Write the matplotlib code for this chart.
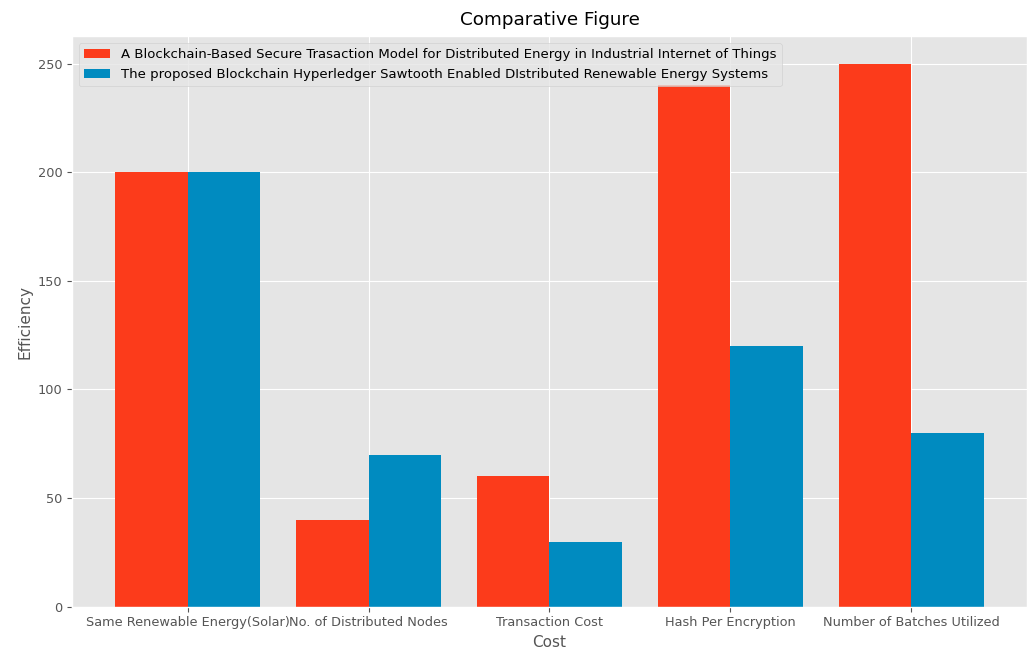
import numpy as np
import matplotlib
matplotlib.use("Agg")
import matplotlib.pyplot as plt

plt.style.use("ggplot")

categories = ["Same Renewable Energy(Solar)", "No. of Distributed Nodes",
              "Transaction Cost", "Hash Per Encryption", "Number of Batches Utilized"]
existing = [200, 40, 60, 240, 250]
proposed = [200, 70, 30, 120, 80]
labels = ["A Blockchain-Based Secure Trasaction Model for Distributed Energy in Industrial Internet of Things",
          "The proposed Blockchain Hyperledger Sawtooth Enabled DIstributed Renewable Energy Systems"]

fig = plt.figure(figsize=(10.29, 6.51), dpi=100)
ax = fig.add_axes([0.07, 0.068, 0.928, 0.876])

x = np.arange(len(categories))
w = 0.4
ax.bar(x - w / 2, existing, w, color="#FC3B1B", label=labels[0])
ax.bar(x + w / 2, proposed, w, color="#008BC0", label=labels[1])

ax.set_xticks(x)
ax.set_xticklabels(categories, fontsize=9.3)
ax.tick_params(axis="y", labelsize=9.3)
ax.set_xlabel("Cost", fontsize=11)
ax.set_ylabel("Efficiency", fontsize=11)
ax.set_title("Comparative Figure", fontsize=13.2, pad=8.5)
ax.legend(loc="upper left", fontsize=9.5)

fig.savefig("out.png", dpi=100)
